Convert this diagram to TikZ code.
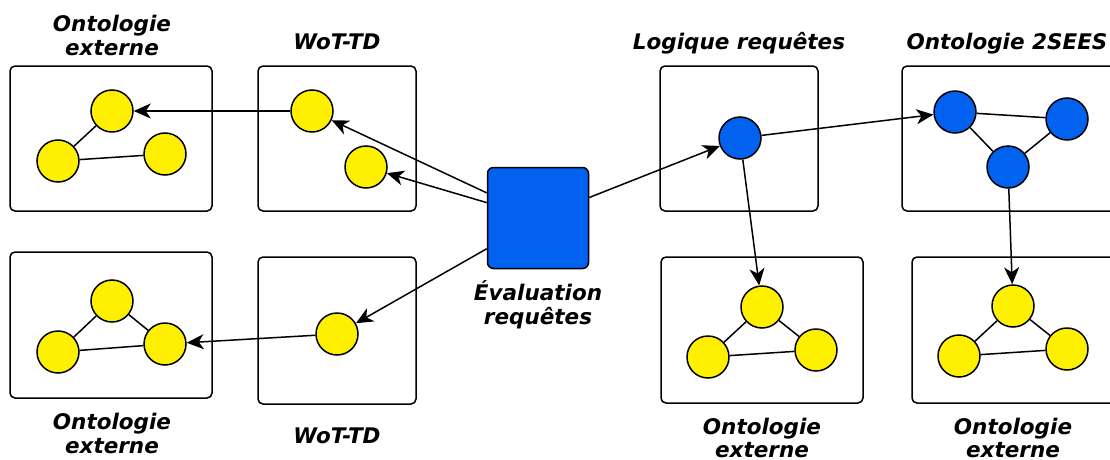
\documentclass[tikz,border=0pt]{standalone}
\usepackage{fontspec}
\setmainfont{DejaVu Sans}
\usetikzlibrary{arrows.meta,calc}
\definecolor{nodeblue}{HTML}{0062EE}
\definecolor{nodeyellow}{HTML}{FFF000}
\begin{document}
\begin{tikzpicture}[x=1pt,y=-1pt,
  frame/.style={draw, line width=1.5pt, rounded corners=5pt},
  yc/.style={circle, draw, line width=1.5pt, fill=nodeyellow, minimum size=42pt, inner sep=0pt},
  bc/.style={yc, fill=nodeblue},
  sqbox/.style={draw, line width=1.5pt, rounded corners=6pt, fill=nodeblue, minimum width=101pt, minimum height=101pt, inner sep=0pt},
  link/.style={line width=1.5pt},
  arr/.style={link, -{Stealth[length=17pt,width=15pt,inset=5pt]}},
  lbl/.style={font=\fontsize{21.5}{24}\selectfont\bfseries\itshape, anchor=base, inner sep=0pt},
]
\useasboundingbox (0,0) rectangle (1110,460);

% frames
\draw[frame] (10,66) rectangle (212,211);
\draw[frame] (258,66) rectangle (416,211);
\draw[frame] (10,252) rectangle (212,398);
\draw[frame] (258,257) rectangle (416,404);
\draw[frame] (660,66) rectangle (818,211);
\draw[frame] (902,66) rectangle (1118,211);
\draw[frame] (661,257) rectangle (863,403);
\draw[frame] (912,257) rectangle (1118,403);

% central square
\node[sqbox] (sq) at (538,218) {};
\coordinate (s1) at ($(sq.north west)!0.255!(sq.south west)$);
\coordinate (s2) at ($(sq.north west)!0.35!(sq.south west)$);
\coordinate (s3) at ($(sq.north west)!0.80!(sq.south west)$);
\coordinate (s4) at ($(sq.north east)!0.30!(sq.south east)$);

% circles
\node[yc] (a1) at (112,111) {};
\node[yc] (a2) at (58,161) {};
\node[yc] (a3) at (165,154) {};
\node[yc] (b1) at (312,111) {};
\node[yc] (b2) at (366,167) {};
\node[yc] (c1) at (112,301) {};
\node[yc] (c2) at (58,352) {};
\node[yc] (c3) at (165,344) {};
\node[yc] (d1) at (337,334) {};
\node[bc] (e1) at (740,138) {};
\node[bc] (f1) at (955,112) {};
\node[bc] (f2) at (1067,119) {};
\node[bc] (f3) at (1008,167) {};
\node[yc] (g1) at (762,307) {};
\node[yc] (g2) at (708,357) {};
\node[yc] (g3) at (816,350) {};
\node[yc] (h1) at (1013,306) {};
\node[yc] (h2) at (959,356) {};
\node[yc] (h3) at (1067,349) {};

% undirected links
\draw[link] (a1) -- (a2);
\draw[link] (a2) -- (a3);
\draw[link] (c1) -- (c2);
\draw[link] (c1) -- (c3);
\draw[link] (c2) -- (c3);
\draw[link] (f1) -- (f2);
\draw[link] (f1) -- (f3);
\draw[link] (f2) -- (f3);
\draw[link] (g1) -- (g2);
\draw[link] (g1) -- (g3);
\draw[link] (g2) -- (g3);
\draw[link] (h1) -- (h2);
\draw[link] (h1) -- (h3);
\draw[link] (h2) -- (h3);

% arrows
\draw[arr] (b1) -- (a1);
\draw[arr] (s1) -- (b1);
\draw[arr] (s2) -- (b2);
\draw[arr] (s3) -- (d1);
\draw[arr] (d1) -- (c3);
\draw[arr] (s4) -- (e1);
\draw[arr] (e1) -- (f1);
\draw[arr] (e1) -- (g1);
\draw[arr] (f3) -- (h1);

% labels
\node[lbl] (la1) at (112,32) {Ontologie};
\node[lbl] (la2) at (112,56) {externe};
\node[lbl] (lb) at (337,50) {WoT-TD};
\node[lbl] (le) at (739,50) {Logique requêtes};
\node[lbl] (lf) at (1007,50) {Ontologie 2SEES};
\node[lbl] (lc1) at (112,429) {Ontologie};
\node[lbl] (lc2) at (112,453) {externe};
\node[lbl] (ld) at (337,443) {WoT-TD};
\node[lbl] (ls1) at (538,300) {Évaluation};
\node[lbl] (ls2) at (538,324) {requêtes};
\node[lbl] (lg1) at (762,434) {Ontologie};
\node[lbl] (lg2) at (762,457) {externe};
\node[lbl] (lh1) at (1013,434) {Ontologie};
\node[lbl] (lh2) at (1013,457) {externe};
\end{tikzpicture}
\end{document}
